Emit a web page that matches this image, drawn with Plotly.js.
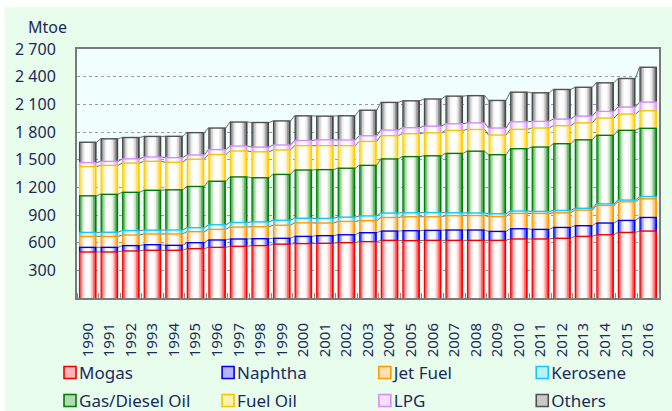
<!DOCTYPE html>
<html>
<head>
<meta charset="utf-8">
<script src="https://cdn.plot.ly/plotly-3.0.1.min.js"></script>
<style>
  html, body { margin: 0; padding: 0; background: #ffffff; width: 672px; height: 411px; overflow: hidden; }
  #chart { position: absolute; left: 5px; top: 7px; width: 667px; height: 404px; }
</style>
</head>
<body>
<div id="chart"></div>
<script>
// ---- data (Mtoe) ----
const years = [1990,1991,1992,1993,1994,1995,1996,1997,1998,1999,2000,2001,2002,2003,2004,2005,2006,2007,2008,2009,2010,2011,2012,2013,2014,2015,2016];
const yearLabels = years.map(String);
const mogas     = [499,499,510,517,517,535,549,560,568,584,590,593,600,611,625,622,625,625,625,625,640,640,647,668,686,711,726];
const naphtha   = [50,50,58,61,54,65,80,80,75,63,78,83,86,97,101,108,108,112,112,97,111,104,118,116,127,130,147];
const jetFuel   = [119,119,115,116,123,119,115,129,130,142,147,137,144,130,147,151,148,155,157,162,166,173,159,169,190,202,203];
const kerosene  = [43,45,48,42,43,43,50,50,52,54,50,50,47,52,48,43,45,32,28,29,26,22,25,20,18,19,24];
const gasDiesel = [397,411,415,432,436,447,472,494,479,497,523,529,530,548,587,609,616,644,670,641,676,698,724,742,743,756,740];
const fuelOil   = [317,314,317,314,299,296,289,281,281,265,264,260,245,260,252,249,249,249,235,213,210,206,195,184,187,176,190];
const lpg       = [43,43,46,47,50,46,54,54,51,54,55,63,61,61,61,65,72,72,72,76,82,72,72,73,72,76,94];
const others    = [221,245,231,223,231,242,234,260,267,261,268,257,263,277,300,291,295,300,295,299,321,310,321,313,310,310,378];

const seriesNames = ["Mogas","Naphtha","Jet Fuel","Kerosene","Gas/Diesel Oil","Fuel Oil","LPG","Others"];
const seriesData  = [mogas, naphtha, jetFuel, kerosene, gasDiesel, fuelOil, lpg, others];
const yTickVals   = [300,600,900,1200,1500,1800,2100,2400,2700];
const yTickText   = ["300","600","900","1 200","1 500","1 800","2 100","2 400","2 700"];

// ---- styles ----
const edgeColors = ["#ff0000","#0000ff","#ff9900","#22ccff","#008000","#ffcc00","#dd99ff","#474747"];
const lineColors = ["#ee0000","#0000ee","#ff9900","#11c8f8","#007a00","#f5c400","#d68cff","#505050"];
const navy = "#1b2a5c";
const fontFam = "Noto Sans, sans-serif";
const barWidth = 0.82;
// shading layers (width as fraction of slot, whiteness, shift) to imitate the cylinder gradient
const shadeLayers = [[0.82, 0.0, 0], [0.68, 0.42, -0.01], [0.52, 0.74, -0.02], [0.36, 0.93, -0.02], [0.2, 1.0, -0.02]];
// legend slots: 4 columns x 2 rows (container fractions)
const legendX = [0.051, 0.288, 0.523, 0.759];
const legendY = [1 - 366 / 404, 1 - 394 / 404];

function hexRgb(hex) {
  const n = parseInt(hex.slice(1), 16);
  return [(n >> 16) & 255, (n >> 8) & 255, n & 255];
}
function mixWhite(hex, t) {
  const [r, g, b] = hexRgb(hex);
  const m = (c) => Math.round(c + (255 - c) * t);
  return "rgb(" + m(r) + "," + m(g) + "," + m(b) + ")";
}

const traces = [];
const legendIds = [];
const base = years.map(() => 0);
const tops = [];
seriesData.forEach((vals, i) => {
  const b = base.slice();
  // stacked segment drawn as layered bars (outer colour -> white core)
  shadeLayers.forEach(([w, t, sh]) => {
    traces.push({
      type: "bar", x: years, y: vals, base: b,
      width: w, offset: -w / 2 + sh,
      marker: { color: mixWhite(edgeColors[i], t), line: { width: 0 } },
      showlegend: false, hoverinfo: "skip"
    });
  });
  vals.forEach((v, k) => { base[k] += v; });
  tops.push(base.slice());
  // legend entry
  const lid = i === 0 ? "legend" : "legend" + (i + 1);
  legendIds.push(lid);
  traces.push({
    type: "bar", name: seriesNames[i], x: [years[0]], y: [null],
    marker: { color: mixWhite(edgeColors[i], 0.7), line: { color: lineColors[i], width: 1.6 } },
    legend: lid, showlegend: true, hoverinfo: "skip"
  });
});

// segment top borders (series colour) and series lines (grey) between neighbouring bars
tops.forEach((top, i) => {
  const tx = [], ty = [], cx = [], cy = [];
  for (let k = 0; k < years.length; k++) {
    tx.push(years[k] - barWidth / 2, years[k] + barWidth / 2, null);
    ty.push(top[k], top[k], null);
    if (k < years.length - 1) {
      cx.push(years[k] + barWidth / 2, years[k + 1] - barWidth / 2, null);
      cy.push(top[k], top[k + 1], null);
    }
  }
  traces.push({
    type: "scatter", mode: "lines", x: cx, y: cy,
    line: { color: "#6e6e6e", width: 1 }, showlegend: false, hoverinfo: "skip"
  });
  traces.push({
    type: "scatter", mode: "lines", x: tx, y: ty,
    line: { color: lineColors[i], width: 1.4 }, showlegend: false, hoverinfo: "skip"
  });
});

const layout = {
  width: 667, height: 404,
  paper_bgcolor: "#e8fdec",
  plot_bgcolor: "#f0fffe",
  margin: { l: 72, r: 13, t: 42, b: 113 },
  barmode: "overlay",
  showlegend: true,
  font: { family: fontFam, color: navy },
  xaxis: {
    type: "linear",
    range: [1989.5, 2016.5],
    tickvals: years, ticktext: yearLabels,
    tickangle: -90,
    tickfont: { family: fontFam, size: 15, color: navy },
    ticks: "",
    ticklabelstandoff: 17,
    minor: { tick0: 1989.5, dtick: 1, ticks: "inside", ticklen: 5, tickcolor: "#8a8a8a", tickwidth: 1, showgrid: false },
    showgrid: false, zeroline: false,
    showline: true, linecolor: "#7a7a7a", linewidth: 2, mirror: true,
    fixedrange: true
  },
  yaxis: {
    range: [0, 2700],
    tickvals: yTickVals, ticktext: yTickText,
    tickfont: { family: fontFam, size: 16, color: navy },
    ticks: "",
    ticklabelstandoff: 16,
    showgrid: true, gridcolor: "#9a9a9a", gridwidth: 1, griddash: "dot",
    zeroline: false,
    showline: true, linecolor: "#7a7a7a", linewidth: 2, mirror: true,
    fixedrange: true
  },
  annotations: [{
    text: "Mtoe", xref: "paper", yref: "paper",
    x: -0.05, y: 1.09, xanchor: "center", yanchor: "middle",
    showarrow: false, font: { family: fontFam, size: 16, color: navy }
  }]
};
legendIds.forEach((lid, i) => {
  layout[lid] = {
    orientation: "h",
    xref: "container", yref: "container",
    xanchor: "left", yanchor: "middle",
    x: legendX[i % 4], y: legendY[Math.floor(i / 4)],
    bgcolor: "rgba(0,0,0,0)",
    font: { family: fontFam, size: 17, color: navy },
    itemclick: false, itemdoubleclick: false
  };
});

// nudge legend symbols next to their labels, as in the original
const gdEl = document.getElementById("chart");
function nudgeLegend() {
  gdEl.querySelectorAll("g.traces .legendpoints").forEach((lp) => {
    if (lp.getAttribute("transform") !== "translate(11,0)") lp.setAttribute("transform", "translate(11,0)");
  });
}
const obs = new MutationObserver(nudgeLegend);
obs.observe(gdEl, { subtree: true, childList: true, attributes: true, attributeFilter: ["transform"] });

const p = Plotly.newPlot("chart", traces, layout, { displayModeBar: false, staticPlot: true });
nudgeLegend();
if (p && p.then) p.then(nudgeLegend);
[0, 100, 400].forEach((t) => setTimeout(nudgeLegend, t));
</script>
</body>
</html>
